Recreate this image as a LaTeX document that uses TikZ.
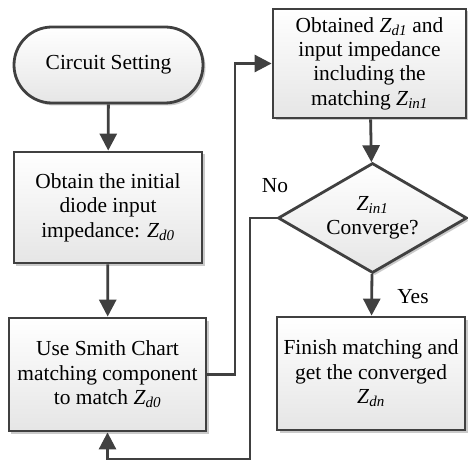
\documentclass[tikz,border=0pt]{standalone}
\usepackage{fontspec}
\setmainfont{Liberation Serif}
\usetikzlibrary{arrows.meta,shapes.geometric,shadows}
\definecolor{edge}{HTML}{404040}
\newcommand{\zsub}[2]{\textit{#1}\textsubscript{\textit{#2}}}
\tikzset{
  flowbox/.style={draw=edge, line width=2.8bp, top color=white, bottom color=black!10,
    drop shadow={shadow xshift=2.5bp, shadow yshift=-2.5bp, fill=black!35, opacity=0.6},
    align=center, font=\fontsize{21.5}{24.5}\selectfont, inner sep=0pt},
  link/.style={draw=edge, line width=2.8bp,
    -{Triangle[width=17bp,length=17bp]}},
  tag/.style={font=\fontsize{21.5}{24.5}\selectfont}
}
\begin{document}
\begin{tikzpicture}[x=1bp,y=-1bp]
\useasboundingbox (0,0) rectangle (468,460);
\node[flowbox, rounded corners=38bp, minimum width=189bp, minimum height=76bp] (start) at (108.5,65) {Circuit Setting};
\node[flowbox, minimum width=188bp, minimum height=111bp] (init) at (108,207.5)
  {Obtain the initial\\diode input\\impedance: \zsub{Z}{d0}};
\node[flowbox, minimum width=197bp, minimum height=113bp] (smith) at (107.5,374.5)
  {Use Smith Chart\\matching component\\to match \zsub{Z}{d0}};
\node[flowbox, minimum width=193bp, minimum height=109bp] (obt) at (369.5,63.5)
  {Obtained \zsub{Z}{d1} and\\input impedance\\including the\\matching \zsub{Z}{in1}};
\node[flowbox, diamond, aspect=1.72, minimum width=189bp, minimum height=110bp] (conv) at (372.5,218)
  {\zsub{Z}{in1}\\Converge?};
\node[flowbox, minimum width=188bp, minimum height=113bp] (fin) at (371,373.5)
  {Finish matching and\\get the converged\\\zsub{Z}{dn}};
\coordinate (up1) at (235,374.5);
\coordinate (dn1) at (250,218);
\coordinate (dn2) at (250,459);
\node[tag] (no) at (275,186) {No};
\node[tag] (yes) at (413,297) {Yes};
\draw[link] (start) -- (init);
\draw[link] (init) -- (smith);
\draw[link] (smith.east) -- (up1) |- (obt.west);
\draw[link] (obt) -- (conv);
\draw[link] (conv) -- (fin);
\draw[link] (conv.west) -- (dn1) -- (dn2) -| (smith.south);
\end{tikzpicture}
\end{document}
